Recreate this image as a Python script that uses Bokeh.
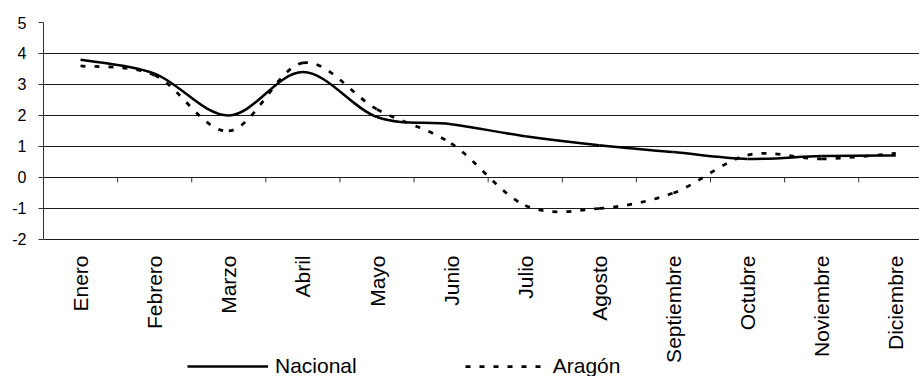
import numpy as np
from bokeh.plotting import figure
from bokeh.models import FixedTicker, Legend, LegendItem, Range1d
from bokeh.core.properties import value
from bokeh.embed import file_html
from bokeh.resources import INLINE

months = ["Enero", "Febrero", "Marzo", "Abril", "Mayo", "Junio", "Julio",
          "Agosto", "Septiembre", "Octubre", "Noviembre", "Diciembre"]
nacional = [3.8, 3.35, 2.0, 3.4, 1.95, 1.72, 1.33, 1.04, 0.82, 0.6, 0.69, 0.71]
aragon = [3.6, 3.3, 1.5, 3.7, 2.2, 1.1, -0.9, -1.0, -0.5, 0.72, 0.6, 0.78]
y_ticks = [-2, -1, 0, 1, 2, 3, 4, 5]

FONT = "Liberation Sans, Arial, sans-serif"
x = np.arange(len(months), dtype=float)
y_min, y_max = min(y_ticks), max(y_ticks)


def smooth_segments(xs, ys):
    """Excel-style smoothed line: cubic Bezier control points from neighbours."""
    xs = np.asarray(xs, float)
    ys = np.asarray(ys, float)
    n = len(xs)
    xp = np.concatenate([[xs[0]], xs, [xs[-1]]])
    yp = np.concatenate([[ys[0]], ys, [ys[-1]]])
    return dict(
        x0=xp[1:n], y0=yp[1:n],
        x1=xp[2:n + 1], y1=yp[2:n + 1],
        cx0=xp[1:n] + (xp[2:n + 1] - xp[0:n - 1]) / 6.0,
        cy0=yp[1:n] + (yp[2:n + 1] - yp[0:n - 1]) / 6.0,
        cx1=xp[2:n + 1] - (xp[3:n + 2] - xp[1:n]) / 6.0,
        cy1=yp[2:n + 1] - (yp[3:n + 2] - yp[1:n]) / 6.0,
    )


# the frame reaches the bottom of the page so that category labels and the
# legend (both drawn below the -2 line) stay inside it
p = figure(width=919, height=376, output_backend="svg", toolbar_location=None,
           x_axis_location=None,
           x_range=Range1d(-0.5, 11.32), y_range=Range1d(-6.42, y_max),
           min_border_left=43, min_border_right=0, min_border_top=22,
           min_border_bottom=0)
p.outline_line_color = None
p.background_fill_color = "white"
p.border_fill_color = "white"

# grid
p.xgrid.grid_line_color = None
p.ygrid.ticker = FixedTicker(ticks=y_ticks)
p.ygrid.grid_line_color = "#1a1a1a"
p.ygrid.grid_line_width = 1

# y axis
yax = p.yaxis[0]
yax.ticker = FixedTicker(ticks=y_ticks)
yax.major_label_overrides = {t: str(t) for t in y_ticks}
yax.bounds = (y_min, y_max)
yax.axis_line_color = "#333333"
yax.major_tick_line_color = "#333333"
yax.major_tick_in = 0
yax.major_tick_out = 5
yax.minor_tick_line_color = None
yax.major_label_standoff = 12
yax.major_label_text_font = FONT
yax.major_label_text_font_size = "16px"
yax.major_label_text_color = "black"

# category labels, vertical, hanging below the bottom gridline
p.text(x=x, y=np.full_like(x, float(y_min)), text=months, angle=np.pi / 2,
       text_align="right", text_baseline="middle", y_offset=16,
       text_font=value(FONT), text_font_size="21px", text_color="black")

# category tick marks on the zero line
bounds = x - 0.5
p.segment(x0=bounds, y0=np.zeros_like(bounds), x1=bounds,
          y1=np.full_like(bounds, -0.16), line_color="#333333", line_width=1)

r_nac = p.bezier(**smooth_segments(x, nacional), line_color="black",
                 line_width=2.5)
r_ara = p.bezier(**smooth_segments(x, aragon), line_color="black",
                 line_width=2.75, line_dash="5 9")

legend = Legend(
    items=[LegendItem(label="Nacional", renderers=[r_nac]),
           LegendItem(label="Aragón", renderers=[r_ara])],
    orientation="horizontal", location=(144, -2),
    glyph_width=81, glyph_height=20, label_standoff=7, spacing=108,
    padding=0, margin=0, border_line_color=None, background_fill_alpha=0,
    label_text_font=FONT, label_text_font_size="21px",
    label_text_color="black",
)
p.add_layout(legend)

open("out.html", "w").write(file_html(p, INLINE))
